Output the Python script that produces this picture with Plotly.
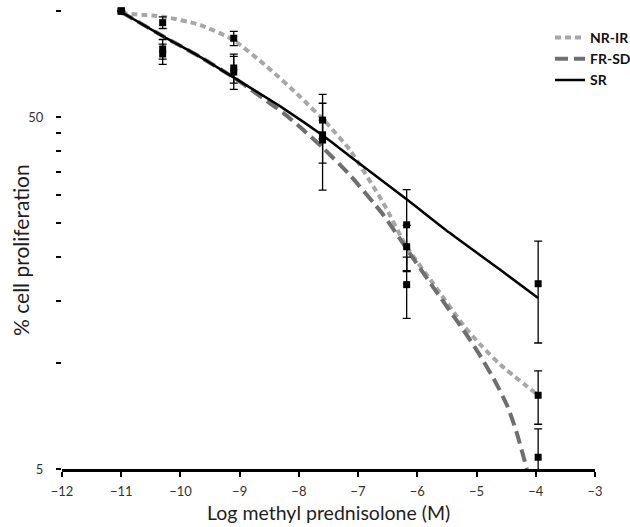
import numpy as np
import plotly.graph_objects as go

# ---------------- data ----------------
log_conc = [-11.0, -10.3, -9.1, -7.6, -6.18, -3.96]

nrir_mean = [100, 92.7, 83.7, 49.0, 21.4, 8.1]
nrir_err = [0, 3.5, 3.9, 5.7, 3.2, 1.4]
frsd_mean = [100, 75.5, 67.1, 43.0, 16.7, 5.4]
frsd_err = [0, 5.0, 7.2, 6.0, 3.3, 1.1]
sr_mean = [100, 78.0, 68.9, 44.5, 24.7, 16.8]
sr_err = [0, 5.0, 6.5, 13.5, 6.4, 5.4]

# fitted curves
nrir_fit_x = [-11.0, -10.3, -9.67, -9.11, -8.54, -7.98, -7.53, -7.14, -6.57, -6.18,
              -5.73, -5.22, -4.94, -4.60, -3.96]
nrir_fit_y = [98.5, 96.4, 91.3, 82.8, 69.5, 57.1, 48.0, 40.3, 28.4, 21.4,
              16.8, 12.8, 11.3, 9.9, 8.1]

frsd_fit_x = [-11.0, -10.3, -9.67, -9.11, -8.82, -8.54, -8.26, -7.98, -7.59, -7.14,
              -6.57, -6.18, -5.73, -5.22, -4.94, -4.69, -4.48, -4.33, -4.21, -4.145,
              -4.11]
frsd_fit_y = [99.4, 84.9, 74.1, 64.9, 60.0, 55.5, 51.3, 46.8, 40.8, 34.2,
              26.3, 21.1, 16.4, 12.4, 10.5, 8.89, 7.55, 6.41, 5.44, 4.94,
              4.65]

sr_fit_x = [-11.0, -10.3, -9.67, -9.11, -8.27, -7.59, -7.14, -6.17, -5.45, -4.60, -3.96]
sr_fit_y = [99.4, 84.9, 74.1, 64.9, 53.0, 44.2, 38.7, 29.1, 23.4, 18.4, 15.3]

series_names = ["NR-IR", "FR-SD", "SR"]
x_ticks = list(range(-12, -2))
y_tickvals = [5, 10, 15, 20, 25, 30, 35, 40, 45, 50, 100]
y_ticktext = ["5", "", "", "", "", "", "", "", "", "50", ""]
x_title = "Log methyl prednisolone (M)"
y_title = "% cell proliferation"

# ---------------- styling ----------------
W, H = 630, 527
ML, MR, MT, MB = 62, 35, 4, 58
PH = H - MT - MB
DECADE_PX = 352.0
y_lo = np.log10(5)
y_hi = y_lo + PH / DECADE_PX

NR_COLOR = "#a7a7a7"
FR_COLOR = "#6f6f6f"
SR_COLOR = "#000000"
FONT = "Lato, Carlito, 'Open Sans', sans-serif"


def paper_y(py):
    """absolute pixel row -> paper fraction"""
    return (H - MB - py) / PH


fig = go.Figure()

fits = [
    (nrir_fit_x, nrir_fit_y, NR_COLOR, 4, "6px,4px"),
    (frsd_fit_x, frsd_fit_y, FR_COLOR, 4, "13px,6px"),
    (sr_fit_x, sr_fit_y, SR_COLOR, 2.5, "solid"),
]
for i, (fx, fy, col, w, dash) in enumerate(fits):
    fig.add_trace(go.Scatter(
        x=fx, y=fy, mode="lines", name=series_names[i],
        legendgroup=series_names[i],
        line=dict(color=col, width=w, dash=dash, shape="spline", smoothing=0.6),
        hoverinfo="skip",
    ))

for mean, err, nm in [(nrir_mean, nrir_err, "NR-IR"),
                      (frsd_mean, frsd_err, "FR-SD"),
                      (sr_mean, sr_err, "SR")]:
    fig.add_trace(go.Scatter(
        x=log_conc, y=mean, mode="markers", name=nm + " data", showlegend=False,
        marker=dict(symbol="square", size=7, color="black"),
        error_y=dict(type="data", array=err, visible=True, color="black",
                     thickness=1.3, width=4),
    ))

fig.update_layout(
    width=W, height=H,
    margin=dict(l=ML, r=MR, t=MT, b=MB, autoexpand=False),
    paper_bgcolor="white", plot_bgcolor="white",
    font=dict(family=FONT, color="#222222"),
    showlegend=True,
    legend=dict(
        x=(550 - ML) / (W - ML - MR), y=paper_y(22),
        xanchor="left", yanchor="top",
        font=dict(size=14, color="#111111", weight="bold"),
        bgcolor="rgba(0,0,0,0)", tracegroupgap=0,
    ),
    xaxis=dict(
        range=[-12, -3], tickvals=x_ticks, ticks="outside", ticklen=5,
        tickwidth=1.5, tickcolor="black", showline=True, linecolor="black",
        linewidth=2.5, showgrid=False, zeroline=False, automargin=False,
        tickfont=dict(size=13, color="#333333"), ticklabelstandoff=4,
    ),
    yaxis=dict(
        type="log", range=[y_lo, y_hi], tickvals=y_tickvals, ticktext=y_ticktext,
        ticks="outside", ticklen=5, tickwidth=1.5, tickcolor="black",
        showline=False, showgrid=False, zeroline=False, automargin=False,
        tickfont=dict(size=13, color="#333333"), ticklabelstandoff=10,
    ),
    shapes=[dict(type="line", xref="paper", x0=0, x1=0, yref="y",
                 y0=np.log10(5), y1=np.log10(100),
                 line=dict(color="black", width=2.5), layer="above")],
    annotations=[
        dict(text=x_title, xref="paper", yref="paper", x=0.5, y=paper_y(512),
             xanchor="center", yanchor="middle",
             showarrow=False, font=dict(size=19.5, color="#1e1e1e")),
        dict(text=y_title, xref="paper", yref="paper", x=0, y=paper_y(250),
             xanchor="center", yanchor="middle", xshift=-(ML - 20), textangle=-90,
             showarrow=False, font=dict(size=21, color="#1e1e1e")),
    ],
)

fig.write_html("out.html")
